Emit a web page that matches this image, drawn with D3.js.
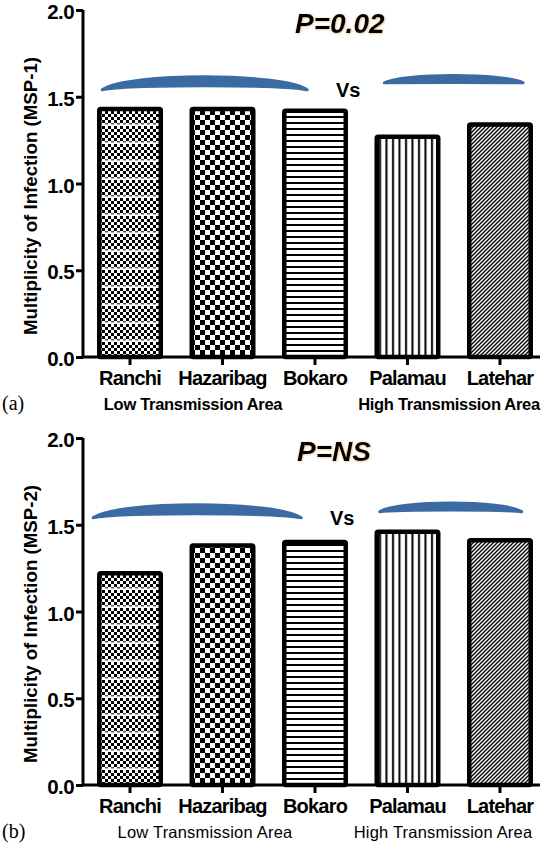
<!DOCTYPE html>
<html>
<head>
<meta charset="utf-8">
<script src="https://cdn.jsdelivr.net/npm/d3@7"></script>
<style>
  html, body { margin: 0; padding: 0; background: #fff; }
  svg { display: block; }
</style>
</head>
<body>
<svg id="chart" width="550" height="844"></svg>
<script>
// ---------------- data ----------------
const categories = ["Ranchi", "Hazaribag", "Bokaro", "Palamau", "Latehar"];
const msp1Values = [1.43, 1.43, 1.42, 1.27, 1.34];
const msp2Values = [1.22, 1.38, 1.40, 1.46, 1.41];
const yTicks = [0, 0.5, 1.0, 1.5, 2.0];
const areaLabels = ["Low Transmission Area", "High Transmission Area"];
const panelLetters = ["(a)", "(b)"];
const panelTitles = ["P=0.02", "P=NS"];
const yAxisTitles = ["Multiplicity of Infection (MSP-1)", "Multiplicity of Infection (MSP-2)"];
const vsText = "Vs";

// ---------------- setup ----------------
const svg = d3.select("#chart");
const defs = svg.append("defs");

function pat(id, w, h, bg) {
  const p = defs.append("pattern").attr("id", id)
    .attr("patternUnits", "userSpaceOnUse").attr("width", w).attr("height", h);
  p.append("rect").attr("width", w).attr("height", h).attr("fill", bg || "#fff");
  return p;
}
{ // Ranchi: fine checker with light bands
  const p = pat("p-ranchi", 6, 18);
  for (let r = 0; r < 5; r++) {
    p.append("rect").attr("x", (r % 2) * 3).attr("y", r * 3).attr("width", 3).attr("height", 3).attr("fill", "#000");
  }
  p.append("rect").attr("x", 3).attr("y", 15).attr("width", 3).attr("height", 1.5).attr("fill", "#555");
}
{ // Hazaribag: coarser checker
  const p = pat("p-hazaribag", 10, 10);
  p.append("rect").attr("x", 0).attr("y", 0).attr("width", 5).attr("height", 5).attr("fill", "#000");
  p.append("rect").attr("x", 5).attr("y", 5).attr("width", 5).attr("height", 5).attr("fill", "#000");
}
{ // Bokaro: horizontal lines
  const p = pat("p-bokaro", 6, 6);
  p.append("rect").attr("x", 0).attr("y", 2).attr("width", 6).attr("height", 2).attr("fill", "#000");
}
{ // Palamau: vertical lines
  const p = pat("p-palamau", 6.5, 6);
  p.append("rect").attr("x", 2).attr("y", 0).attr("width", 2).attr("height", 6).attr("fill", "#000");
}
{ // Latehar: diagonal lines
  const p = pat("p-latehar", 4, 4, "#f2f2f2");
  p.append("path").attr("d", "M-1,1 l2,-2 M0,4 l4,-4 M3,5 l2,-2")
    .attr("stroke", "#000").attr("stroke-width", 1.25);
}
const patternIds = ["p-ranchi", "p-hazaribag", "p-bokaro", "p-palamau", "p-latehar"];

const f = defs.append("filter").attr("id", "glow").attr("x", "-20%").attr("y", "-40%").attr("width", "140%").attr("height", "180%");
f.append("feDropShadow").attr("dx", 0.5).attr("dy", 0.5).attr("stdDeviation", 1)
  .attr("flood-color", "#c07a20").attr("flood-opacity", 0.55);

const blue = "#3c6aa2";

const panels = [
  {
    values: msp1Values, offset: 0, areaBold: true,
    arcs: [
      { from: 0, fromFrac: 0.08, to: 2, toFrac: 0.38, yEnd: 1.54, yTop: 1.615, thick: 9 },
      { from: 3, fromFrac: 0.15, to: 4, toFrac: 0.85, yEnd: 1.58, yTop: 1.622, thick: 7 }
    ],
    vsX: 336, titleX: 295,
    areaX: [193, 449]
  },
  {
    values: msp2Values, offset: 428, areaBold: false,
    arcs: [
      { from: 0, fromFrac: -0.06, to: 2, toFrac: 0.29, yEnd: 1.54, yTop: 1.615, thick: 9 },
      { from: 3, fromFrac: 0.08, to: 4, toFrac: 0.83, yEnd: 1.575, yTop: 1.625, thick: 7 }
    ],
    vsX: 330, titleX: 297,
    areaX: [205, 443]
  }
];

const x = d3.scaleBand().domain(categories).range([90, 540])
  .paddingInner(0.2865).paddingOuter(0.076);
const axisX0 = 83, axisX1 = 540;
const sw = 4.5;

panels.forEach((P, pi) => {
  const g = svg.append("g").attr("transform", `translate(0,${P.offset})`);
  const y = d3.scaleLinear().domain([0, 2]).range([357, 10]);

  g.selectAll("rect.bar").data(categories).enter().append("rect")
    .attr("class", "bar")
    .attr("x", d => x(d) + sw / 2)
    .attr("width", x.bandwidth() - sw)
    .attr("y", (d, i) => y(P.values[i]))
    .attr("height", (d, i) => y(0) - y(P.values[i]))
    .attr("rx", 1.5)
    .attr("fill", (d, i) => `url(#${patternIds[i]})`)
    .attr("stroke", "#000").attr("stroke-width", sw).attr("stroke-linejoin", "round");

  const ya = g.append("g").attr("transform", `translate(${axisX0},0)`)
    .call(d3.axisLeft(y).tickValues(yTicks).tickFormat(d3.format(".1f")).tickSize(7).tickPadding(2));
  ya.select(".domain").attr("stroke-width", 3).attr("d", `M0,${y(2)}V${y(0)}`);
  ya.selectAll(".tick line").attr("stroke-width", 3);
  ya.selectAll(".tick text")
    .attr("font-family", "Liberation Sans, Arial, sans-serif")
    .attr("font-weight", "bold").attr("font-size", 20.5)
    .attr("letter-spacing", -0.6).attr("fill", "#000").attr("dy", "0.42em");

  const xa = g.append("g").attr("transform", `translate(0,${y(0)})`)
    .call(d3.axisBottom(x).tickSize(8).tickFormat(""));
  xa.select(".domain").attr("stroke-width", 3).attr("d", `M${axisX0},0H${axisX1}`);
  xa.selectAll(".tick line").attr("stroke-width", 3);

  g.selectAll("text.cat").data(categories).enter().append("text")
    .attr("class", "cat")
    .attr("x", d => x(d) + x.bandwidth() / 2)
    .attr("y", 385)
    .attr("text-anchor", "middle")
    .attr("font-family", "Liberation Sans, Arial, sans-serif")
    .attr("font-weight", "bold").attr("font-size", 20).attr("letter-spacing", -0.8)
    .text(d => d);

  g.selectAll("text.area").data(areaLabels).enter().append("text")
    .attr("class", "area")
    .attr("x", (d, i) => P.areaX[i])
    .attr("y", 410)
    .attr("text-anchor", "middle")
    .attr("font-family", "Liberation Sans, Arial, sans-serif")
    .attr("font-weight", P.areaBold ? "bold" : "normal")
    .attr("font-size", 16.5)
    .attr("letter-spacing", P.areaBold ? -0.3 : 0.2)
    .text(d => d);

  g.append("text").attr("x", 2).attr("y", 410)
    .attr("font-family", "Liberation Serif, Times New Roman, serif")
    .attr("font-size", 20).text(panelLetters[pi]);

  g.append("text")
    .attr("transform", `translate(37,196) rotate(-90)`)
    .attr("text-anchor", "middle")
    .attr("font-family", "Liberation Sans, Arial, sans-serif")
    .attr("font-weight", "bold").attr("font-size", 17.5)
    .attr("textLength", 278).attr("lengthAdjust", "spacingAndGlyphs")
    .text(yAxisTitles[pi]);

  g.append("text").attr("x", P.titleX).attr("y", 33)
    .attr("font-family", "Liberation Sans, Arial, sans-serif")
    .attr("font-weight", "bold").attr("font-style", "italic").attr("font-size", 28)
    .attr("filter", "url(#glow)")
    .text(panelTitles[pi]);

  P.arcs.forEach(a => {
    const x0 = x(categories[a.from]) + a.fromFrac * x.bandwidth();
    const x1 = x(categories[a.to]) + a.toFrac * x.bandwidth();
    const yE = y(a.yEnd), yT = y(a.yTop), yB = yT + a.thick;
    const cT = (4 * yT - yE) / 3, cB = (4 * yB - yE) / 3;
    const w = x1 - x0;
    const d = `M${x0},${yE} C${x0 + 0.12 * w},${cT} ${x1 - 0.12 * w},${cT} ${x1},${yE}` +
              ` C${x1 - 0.12 * w},${cB} ${x0 + 0.12 * w},${cB} ${x0},${yE}Z`;
    g.append("path").attr("d", d).attr("fill", blue)
      .attr("stroke", blue).attr("stroke-width", 3).attr("stroke-linejoin", "round");
  });

  g.append("text").attr("x", P.vsX).attr("y", y(1.50))
    .attr("font-family", "Liberation Sans, Arial, sans-serif")
    .attr("font-weight", "bold").attr("font-size", 20)
    .text(vsText);
});
</script>
</body>
</html>
